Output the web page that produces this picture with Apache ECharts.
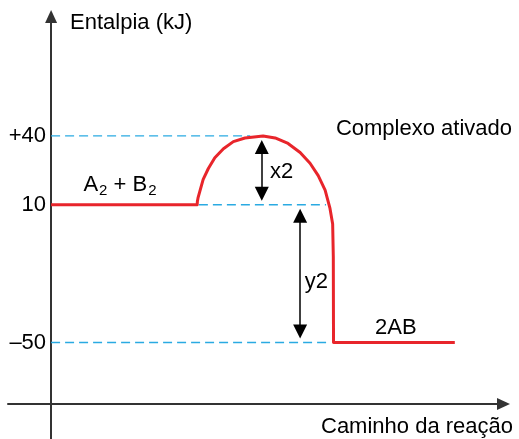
<!DOCTYPE html>
<html>
<head>
<meta charset="utf-8">
<script src="https://cdn.jsdelivr.net/npm/echarts@6/dist/echarts.min.js"></script>
<style>
html, body { margin: 0; padding: 0; background: #fff; }
#chart { width: 519px; height: 439px; }
</style>
</head>
<body>
<div id="chart"></div>
<script>
/*
 * 反应进程的焓变图 (kJ)
 */
// 红色曲线：反应路径
var pathX = [0, 33.9, 33.95, 34.1, 34.6, 35.3, 36.5, 38.0, 40.0, 42.3, 45.0, 49.2, 52.0, 55.0, 57.8, 60.1, 62.0, 63.6, 64.7, 65.35, 65.5, 65.55, 93.7];
var pathY = [10, 10, 11.4, 13.0, 16.4, 21.1, 25.8, 30.5, 34.4, 37.5, 39.1, 40, 39.1, 36.7, 32.8, 28.1, 22.7, 16.4, 8.7, 1.6, -12.6, -50, -50];

// 刻度
var levelValues = [40, 10, -50];
var levelLabels = ['+40', '10', '–50'];

// 蓝色虚线
var guideLevel = [40, 10, -50];
var guideFrom = [0, 34.3, 0];
var guideTo = [46.2, 63.8, 64.7];

// 双向箭头 x2 / y2
var arrowX = [48.9, 57.8];
var arrowTop = [40, 10];
var arrowBottom = [10, -50];

// 文字说明
var noteNames = ['A2 + B2', 'x2', 'y2', 'Complexo ativado', '2AB'];
var noteX = [7.5, 50.8, 58.9, 66.1, 75.2];
var noteY = [18.8, 24.3, -23.4, 43.2, -43.7];

var X_MIN = -10, X_MAX = 105;
var Y_MIN = -92, Y_MAX = 92;
var GRID_LEFT = 8, GRID_RIGHT = 15.5, GRID_TOP = 16.5;
var FONT = 'Liberation Sans, Arial, sans-serif';
var TEXT_COLOR = '#000';

var chart = echarts.init(document.getElementById('chart'));

var pathData = [];
for (var i = 0; i < pathX.length; i++) {
    pathData.push([pathX[i], pathY[i]]);
}

var series = [];

for (var g = 0; g < guideLevel.length; g++) {
    series.push({
        type: 'line',
        silent: true,
        symbol: 'none',
        data: [[guideFrom[g], guideLevel[g]], [guideTo[g], guideLevel[g]]],
        lineStyle: { color: '#2aaae2', width: 1.4, type: [9, 5] },
        z: 2
    });
}

series.push({
    type: 'line',
    silent: true,
    symbol: 'none',
    smooth: false,
    data: pathData,
    lineStyle: { color: '#e8252b', width: 3, join: 'round' },
    z: 3
});

// 箭头端点向内收（箭头三角形以端点为中心）
var HEAD = 14;
var unitsPerPx = (Y_MAX - Y_MIN) / (439 - GRID_TOP);
var inset = (4 + HEAD / 2) * unitsPerPx;
var arrowLines = [];
for (var a = 0; a < arrowX.length; a++) {
    arrowLines.push([
        { coord: [arrowX[a], arrowTop[a] - inset] },
        { coord: [arrowX[a], arrowBottom[a] + inset] }
    ]);
}
series.push({
    type: 'line',
    silent: true,
    symbol: 'none',
    data: [],
    itemStyle: { color: '#000' },
    markLine: {
        silent: true,
        animation: false,
        symbol: ['triangle', 'triangle'],
        symbolSize: HEAD,
        label: { show: false },
        itemStyle: { color: '#000' },
        lineStyle: { color: '#000', width: 1.5, type: 'solid' },
        data: arrowLines
    },
    z: 4
});

var noteData = [];
for (var n = 0; n < noteNames.length; n++) {
    var item = { name: noteNames[n], value: [noteX[n], noteY[n]] };
    if (n == 0) {
        item.label = {
            formatter: '{n|A}{s|2}{n| + B}{s|2}',
            rich: {
                n: { fontSize: 22, fontFamily: FONT, color: TEXT_COLOR },
                s: { fontSize: 15, fontFamily: FONT, color: TEXT_COLOR, padding: [13, 0, 0, 1] }
            }
        };
    }
    noteData.push(item);
}
series.push({
    type: 'scatter',
    silent: true,
    symbolSize: 0,
    data: noteData,
    itemStyle: { color: '#000', opacity: 1 },
    label: {
        show: true,
        position: 'right',
        distance: 0,
        formatter: '{b}',
        fontSize: 22,
        fontFamily: FONT,
        color: TEXT_COLOR,
        opacity: 1
    },
    z: 5
});

var option = {
    backgroundColor: '#fff',
    animation: false,
    grid: { left: GRID_LEFT, right: GRID_RIGHT, top: GRID_TOP, bottom: 0, outerBoundsMode: 'none' },
    xAxis: {
        type: 'value',
        min: X_MIN,
        max: X_MAX,
        offset: -35,
        name: 'Caminho da reação',
        nameLocation: 'end',
        nameGap: 9.5,
        nameTextStyle: {
            fontSize: 22, fontFamily: FONT, color: TEXT_COLOR,
            align: 'right', verticalAlign: 'top', padding: [12, 0, 0, 0]
        },
        axisLine: {
            onZero: false,
            symbol: ['none', 'triangle'],
            symbolSize: [12, 13],
            lineStyle: { color: '#333', width: 2 }
        },
        axisTick: { show: false },
        axisLabel: { show: false },
        splitLine: { show: false }
    },
    yAxis: {
        type: 'value',
        min: Y_MIN,
        max: Y_MAX,
        position: 'left',
        // y 轴放在 x = 0 处
        offset: -(0 - X_MIN) * (519 - GRID_LEFT - GRID_RIGHT) / (X_MAX - X_MIN),
        name: 'Entalpia (kJ)',
        nameLocation: 'end',
        nameGap: -6,
        nameTextStyle: {
            fontSize: 22, fontFamily: FONT, color: TEXT_COLOR,
            align: 'left', verticalAlign: 'middle', padding: [0, 0, 0, 19]
        },
        axisLine: {
            onZero: false,
            symbol: ['none', 'triangle'],
            symbolSize: [12, 13],
            lineStyle: { color: '#333', width: 2 }
        },
        axisTick: { show: false },
        axisLabel: {
            customValues: levelValues,
            margin: 5,
            fontSize: 22,
            fontFamily: FONT,
            color: TEXT_COLOR,
            formatter: function(v) {
                var idx = levelValues.indexOf(v);
                return idx >= 0 ? levelLabels[idx] : '';
            }
        },
        splitLine: { show: false }
    },
    series: series
};

chart.setOption(option);
</script>
</body>
</html>
